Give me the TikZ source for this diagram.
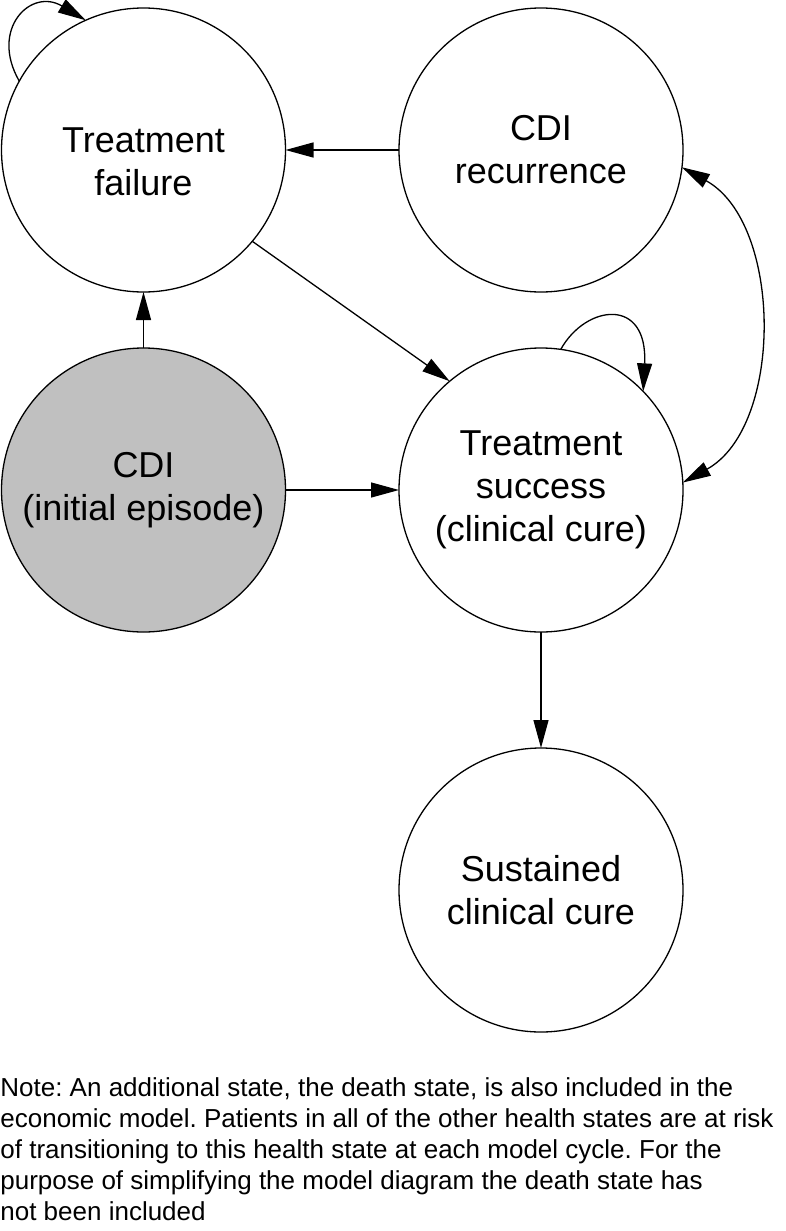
\documentclass[tikz,border=0pt]{standalone}
\usepackage{fontspec}
\setmainfont{Liberation Sans}
\usetikzlibrary{arrows.meta}
\definecolor{stategray}{RGB}{192,192,192}
\frenchspacing
\begin{document}
\begin{tikzpicture}[x=0.5pt,y=-0.5pt,
  state/.style={circle,draw,line width=0.65pt,minimum size=142pt,inner sep=0pt,outer sep=0pt,align=center,font=\fontsize{18}{21.5}\selectfont},
  arr/.style={line width=0.65pt,-{Triangle[length=14pt,width=7.5pt]}},
  dblarr/.style={line width=0.65pt,{Triangle[length=14pt,width=7.5pt]}-{Triangle[length=14pt,width=7.5pt]}},
  notetext/.style={anchor=base west,align=left,inner sep=0pt,font=\fontsize{13}{15.5}\selectfont}]
\useasboundingbox (0,0) rectangle (786,1231);

\node[state] (fail) at (143.5,150) {\rule{0pt}{24pt}Treatment\\failure};
\node[state] (rec)  at (541,150) {CDI\\recurrence};
\node[state,fill=stategray] (init) at (143.5,490) {CDI\\(initial episode)};
\node[state] (succ) at (541,490) {Treatment\\success\\(clinical cure)};
\node[state] (sust) at (541,890) {Sustained\\clinical cure};

\draw[arr] (init) -- (fail);
\draw[arr] (rec) -- (fail);
\draw[arr] (init) -- (succ);
\draw[arr] (fail.-40) -- (succ.130);
\draw[arr] (succ) -- (sust);
\draw[arr] (fail.151.6) .. controls +(-30,-52) and +(-55,-33) .. (fail.114.4);
\draw[arr] (succ.82) .. controls +(25,-45) and +(5,-95) .. (succ.44.4);
\draw[dblarr] (rec.-7) .. controls +(101,56) and +(101,-56) .. (succ.3);

\node[notetext] (note) at (0,1220) {Note: An additional state, the death state, is also included in the\\
economic model. Patients in all of the other health states are at risk\\
of transitioning to this health state at each model cycle. For the\\
purpose of simplifying the model diagram the death state has\\
not been included};
\end{tikzpicture}
\end{document}
